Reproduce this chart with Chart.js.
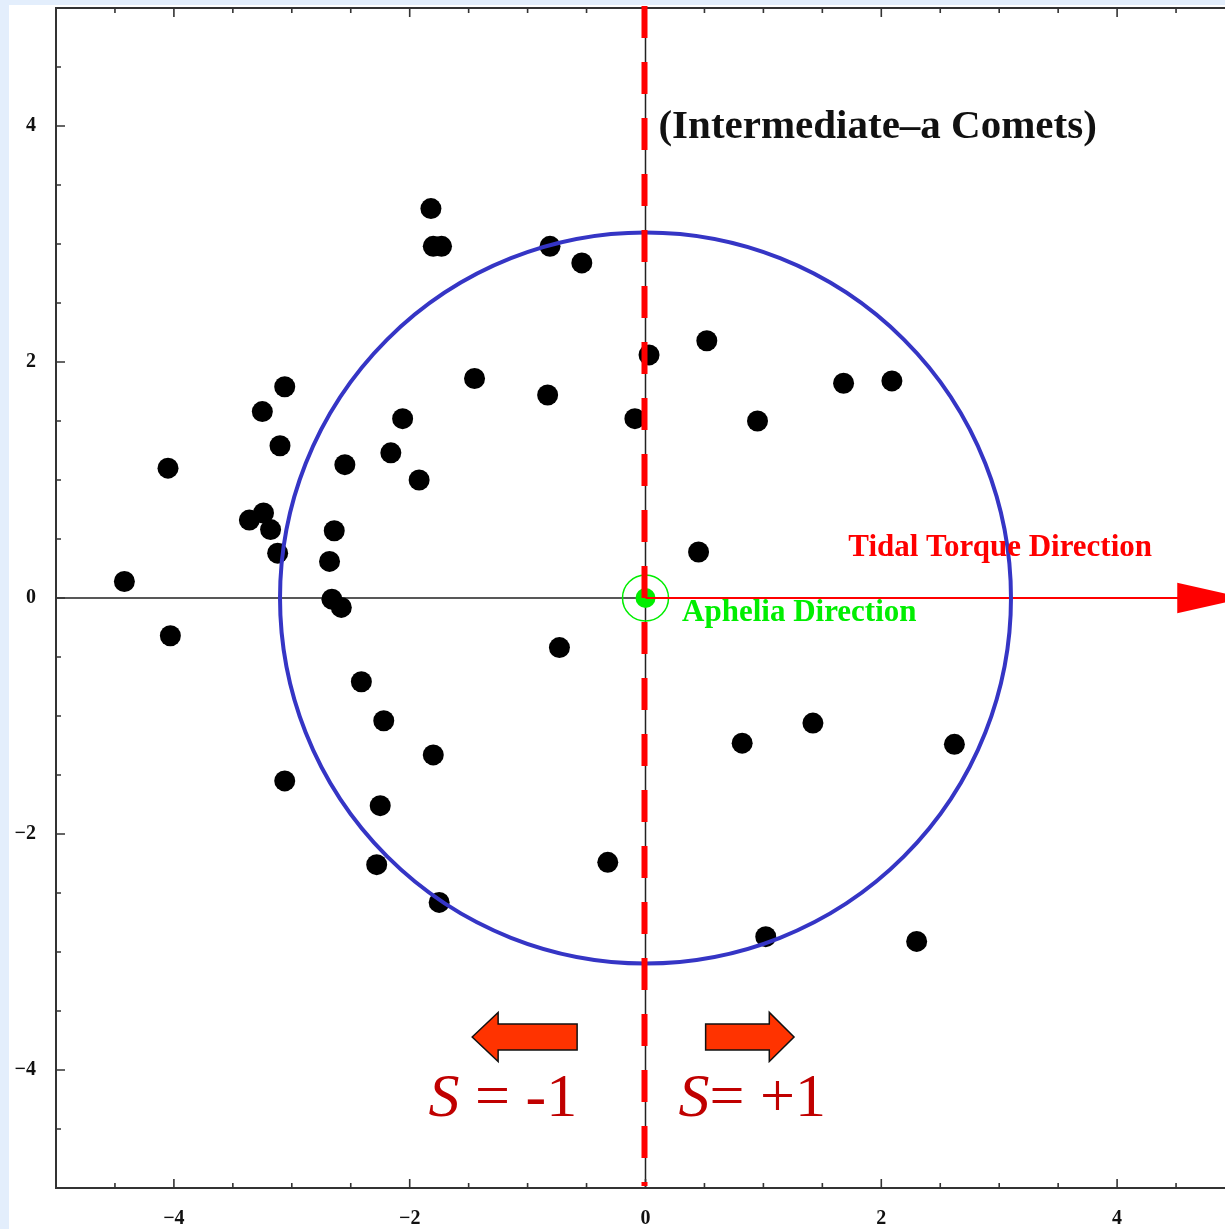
<!DOCTYPE html>
<html>
<head>
<meta charset="utf-8">
<script src="https://cdn.jsdelivr.net/npm/chart.js@4"></script>
<style>
  html, body { margin: 0; padding: 0; overflow: hidden; background: #e3eefc; }
  #chart { display: block; }
</style>
</head>
<body>
<canvas id="chart" width="1236" height="1229"></canvas>
<script>
// comet aphelia positions
const cometX = [-4.42, -4.05, -4.03, -3.36, -3.24, -3.18, -3.12, -3.25, -3.06, -3.10,
  -3.06, -2.68, -2.64, -2.66, -2.58, -2.55, -2.41, -2.22, -2.25, -2.28,
  -2.16, -2.06, -1.92, -1.82, -1.80, -1.73, -1.80, -1.75, -1.45, -0.83,
  -0.81, -0.73, -0.54, -0.32, -0.09, 0.03, 0.45, 0.52, 0.82, 0.95,
  1.02, 1.42, 1.68, 2.09, 2.30, 2.62];
const cometY = [0.14, 1.10, -0.32, 0.66, 0.72, 0.58, 0.38, 1.58, 1.79, 1.29,
  -1.55, 0.31, 0.57, -0.01, -0.08, 1.13, -0.71, -1.04, -1.76, -2.26,
  1.23, 1.52, 1.00, 3.30, 2.98, 2.98, -1.33, -2.58, 1.86, 1.72,
  2.98, -0.42, 2.84, -2.24, 1.52, 2.06, 0.39, 2.18, -1.23, 1.50,
  -2.87, -1.06, 1.82, 1.84, -2.91, -1.24];

const tickValues = [-4, -2, 0, 2, 4];
const axisMin = -5;
const axisMax = 5;
const circleRadius = 3.1;

const points = cometX.map((x, i) => ({ x: x, y: cometY[i] }));

const serif = '"Liberation Serif", "Times New Roman", serif';

const overlay = {
  id: "overlay",
  beforeDraw(chart) {
    const ctx = chart.ctx;
    ctx.save();
    ctx.fillStyle = "#e3eefc";
    ctx.fillRect(0, 0, chart.width, chart.height);
    ctx.fillStyle = "#ffffff";
    ctx.fillRect(9, 5, chart.width, chart.height);
    ctx.restore();
  },
  beforeDatasetsDraw(chart) {
    const ctx = chart.ctx;
    const a = chart.chartArea;
    const X = (v) => chart.scales.x.getPixelForValue(v);
    const Y = (v) => chart.scales.y.getPixelForValue(v);
    ctx.save();
    // axes through origin
    ctx.strokeStyle = "#222";
    ctx.lineWidth = 1.5;
    ctx.beginPath();
    ctx.moveTo(a.left, Y(0));
    ctx.lineTo(X(0), Y(0));
    ctx.moveTo(X(0), a.top);
    ctx.lineTo(X(0), a.bottom);
    ctx.stroke();
    // frame
    ctx.strokeStyle = "#333";
    ctx.lineWidth = 2;
    ctx.strokeRect(a.left, a.top, a.right - a.left, a.bottom - a.top);
    // inward ticks
    ctx.lineWidth = 1.6;
    ctx.beginPath();
    for (let v = axisMin + 0.5; v < axisMax; v += 0.5) {
      const len = tickValues.includes(v) ? 9 : 5;
      ctx.moveTo(X(v), a.bottom);
      ctx.lineTo(X(v), a.bottom - len);
      ctx.moveTo(X(v), a.top);
      ctx.lineTo(X(v), a.top + len);
      ctx.moveTo(a.left, Y(v));
      ctx.lineTo(a.left + len, Y(v));
    }
    ctx.stroke();
    ctx.restore();
  },
  afterDatasetsDraw(chart) {
    const ctx = chart.ctx;
    const a = chart.chartArea;
    const X = (v) => chart.scales.x.getPixelForValue(v);
    const Y = (v) => chart.scales.y.getPixelForValue(v);
    ctx.save();

    // tidal torque line + arrow head
    ctx.strokeStyle = "#ff0000";
    ctx.lineWidth = 2;
    ctx.beginPath();
    ctx.moveTo(X(0), Y(0));
    ctx.lineTo(X(4.52), Y(0));
    ctx.stroke();
    ctx.fillStyle = "#ff0000";
    ctx.beginPath();
    ctx.moveTo(X(4.51), Y(0.13));
    ctx.lineTo(X(5.08), Y(0));
    ctx.lineTo(X(4.51), Y(-0.13));
    ctx.closePath();
    ctx.fill();

    // blue circle
    ctx.strokeStyle = "#3535c5";
    ctx.lineWidth = 4;
    ctx.beginPath();
    ctx.arc(X(0), Y(0), X(circleRadius) - X(0), 0, Math.PI * 2);
    ctx.stroke();

    // red dashed vertical line
    ctx.strokeStyle = "#ff0000";
    ctx.lineWidth = 6;
    ctx.setLineDash([32, 24]);
    ctx.beginPath();
    ctx.moveTo(X(0) - 1, a.top - 2);
    ctx.lineTo(X(0) - 1, a.bottom - 2);
    ctx.stroke();
    ctx.setLineDash([]);

    // texts
    ctx.textBaseline = "alphabetic";
    ctx.textAlign = "left";
    ctx.fillStyle = "#111";
    ctx.font = "bold 41px " + serif;
    ctx.fillText("(Intermediate\u2013a Comets)", X(0.11), Y(4) + 12);

    ctx.fillStyle = "#ff0000";
    ctx.font = "bold 31px " + serif;
    ctx.fillText("Tidal Torque Direction", X(1.72), Y(0) - 42);

    ctx.fillStyle = "#00ee00";
    ctx.fillText("Aphelia Direction", X(0.31), Y(0) + 23);

    // orange direction arrows
    const arrowY = -3.72;
    const head = 0.208, shaft = 0.11;
    ctx.fillStyle = "#ff3300";
    ctx.strokeStyle = "#111";
    ctx.lineWidth = 1.5;
    ctx.beginPath();
    ctx.moveTo(X(-1.47), Y(arrowY));
    ctx.lineTo(X(-1.25), Y(arrowY + head));
    ctx.lineTo(X(-1.25), Y(arrowY + shaft));
    ctx.lineTo(X(-0.58), Y(arrowY + shaft));
    ctx.lineTo(X(-0.58), Y(arrowY - shaft));
    ctx.lineTo(X(-1.25), Y(arrowY - shaft));
    ctx.lineTo(X(-1.25), Y(arrowY - head));
    ctx.closePath();
    ctx.fill();
    ctx.stroke();
    ctx.beginPath();
    ctx.moveTo(X(1.26), Y(arrowY));
    ctx.lineTo(X(1.05), Y(arrowY + head));
    ctx.lineTo(X(1.05), Y(arrowY + shaft));
    ctx.lineTo(X(0.51), Y(arrowY + shaft));
    ctx.lineTo(X(0.51), Y(arrowY - shaft));
    ctx.lineTo(X(1.05), Y(arrowY - shaft));
    ctx.lineTo(X(1.05), Y(arrowY - head));
    ctx.closePath();
    ctx.fill();
    ctx.stroke();

    // S labels
    ctx.fillStyle = "#c00000";
    const base = Y(-4.39);
    let x = X(-1.84);
    ctx.font = "italic 62px " + serif;
    ctx.fillText("S", x, base);
    x += ctx.measureText("S").width;
    ctx.font = "62px " + serif;
    ctx.fillText(" = -1", x, base);

    x = X(0.28);
    ctx.font = "italic 62px " + serif;
    ctx.fillText("S", x, base);
    x += ctx.measureText("S").width;
    ctx.font = "62px " + serif;
    ctx.fillText("= +1", x, base);

    ctx.restore();
  },
};

const tickFormat = (v) => (v < 0 ? "\u2212" + Math.abs(v) : String(v));

// keep the plot area fixed: no extra room for edge labels
const noPadding = (scale) => {
  scale.paddingLeft = 0;
  scale.paddingRight = 0;
  scale.paddingTop = 0;
  scale.paddingBottom = 0;
};

new Chart(document.getElementById("chart"), {
  type: "scatter",
  data: {
    datasets: [
      {
        label: "Comets",
        data: points,
        backgroundColor: "#000000",
        borderWidth: 0,
        pointRadius: 10.5,
      },
      {
        label: "Aphelia ring",
        data: [{ x: 0, y: 0 }],
        backgroundColor: "rgba(0,0,0,0)",
        borderColor: "#00ee00",
        borderWidth: 1.5,
        pointRadius: 23,
      },
      {
        label: "Aphelia",
        data: [{ x: 0, y: 0 }],
        backgroundColor: "#00ee00",
        borderWidth: 0,
        pointRadius: 10,
      },
    ],
  },
  options: {
    responsive: false,
    animation: false,
    layout: { autoPadding: false, padding: { top: 8, right: 1, left: 0, bottom: 0 } },
    plugins: {
      legend: { display: false },
      tooltip: { enabled: false },
    },
    scales: {
      x: {
        type: "linear",
        min: axisMin,
        max: axisMax,
        afterFit: (scale) => { scale.height = 41; noPadding(scale); },
        afterBuildTicks: (scale) => { scale.ticks = tickValues.map((v) => ({ value: v })); },
        grid: { display: false, drawTicks: false },
        border: { display: false },
        ticks: {
          padding: 19,
          color: "#111",
          font: { family: serif, size: 20, weight: "bold" },
          callback: tickFormat,
          maxRotation: 0,
        },
      },
      y: {
        type: "linear",
        min: axisMin,
        max: axisMax,
        afterFit: (scale) => { scale.width = 56; noPadding(scale); },
        afterBuildTicks: (scale) => { scale.ticks = tickValues.map((v) => ({ value: v })); },
        grid: { display: false, drawTicks: false },
        border: { display: false },
        ticks: {
          padding: 20,
          color: "#111",
          font: { family: serif, size: 20, weight: "bold" },
          callback: tickFormat,
        },
      },
    },
  },
  plugins: [overlay],
});
</script>
</body>
</html>
